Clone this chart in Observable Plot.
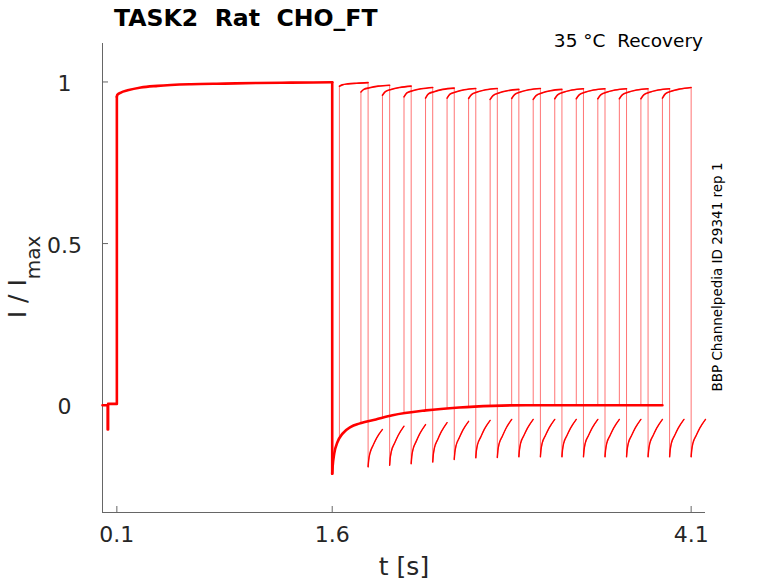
<!DOCTYPE html>
<html><head><meta charset="utf-8">
<script src="https://cdn.jsdelivr.net/npm/d3@7"></script>
<script src="https://cdn.jsdelivr.net/npm/@observablehq/plot@0.6"></script>
<style>html,body{margin:0;padding:0;background:#fff;}</style>
</head><body><div id="chart"></div>
<script>
// ---- ticks & domains ----
const xTicks = [0.1, 1.6, 4.1];
const yTicks = [0, 0.5, 1];
const xDomain = [0, 4.2];
const yDomain = [-0.332, 1.119];

// ---- shared part of every sweep (holding, prepulse, recovery tail) ----
const baseT = [0, 0.036, 0.036, 0.039, 0.039, 0.1, 0.1];
const baseV = [0, 0, -0.075, -0.075, 0.004, 0.004, 0.954];
const preT = [0.1, 0.103, 0.128, 0.175, 0.267, 0.384, 0.616, 0.849, 1.08, 1.312, 1.6];
const preV = [0.954, 0.96, 0.967, 0.974, 0.983, 0.988, 0.993, 0.995, 0.997, 0.998, 0.999];
const dropT = [1.6, 1.6];
const dropV = [0.999, -0.212];
const tailT = [1.6, 1.603, 1.614, 1.637, 1.672, 1.73, 1.788, 1.904, 2.02, 2.252, 2.484, 2.717, 2.948, 3.4, 3.9];
const tailV = [-0.212, -0.19, -0.15, -0.114, -0.088, -0.067, -0.057, -0.044, -0.031, -0.016, -0.007, -0.002, 0, 0, 0];

// ---- test pulses (one per sweep) ----
const startTimes = [1.65, 1.80, 1.95, 2.10, 2.25, 2.40, 2.55, 2.70, 2.85, 3.00, 3.15, 3.30, 3.45, 3.60, 3.75, 3.90];
const endTimes   = [1.85, 2.00, 2.15, 2.30, 2.45, 2.60, 2.75, 2.90, 3.05, 3.20, 3.35, 3.50, 3.65, 3.80, 3.95, 4.10];
const tailAt = [-0.104, -0.055, -0.039, -0.026, -0.016, -0.010, -0.006, -0.003, -0.001, 0, 0, 0, 0, 0, 0, 0];
const plateauDt = [0, 0.02, 0.06, 0.12, 0.2];
const plateau = [
  [0.987, 0.991, 0.994, 0.996, 0.998],
  [0.969, 0.977, 0.982, 0.987, 0.990],
  [0.959, 0.970, 0.977, 0.983, 0.987],
  [0.954, 0.966, 0.973, 0.979, 0.983],
  [0.950, 0.963, 0.970, 0.977, 0.981],
  [0.950, 0.962, 0.969, 0.976, 0.980],
  [0.949, 0.961, 0.969, 0.976, 0.980],
  [0.946, 0.958, 0.966, 0.973, 0.977],
  [0.949, 0.961, 0.969, 0.976, 0.980],
  [0.946, 0.958, 0.966, 0.973, 0.977],
  [0.948, 0.960, 0.968, 0.975, 0.979],
  [0.948, 0.960, 0.968, 0.975, 0.979],
  [0.948, 0.960, 0.968, 0.975, 0.979],
  [0.948, 0.960, 0.968, 0.975, 0.979],
  [0.948, 0.960, 0.968, 0.975, 0.979],
  [0.950, 0.963, 0.971, 0.978, 0.983]
];
const hookDt = [0, 0.004, 0.012, 0.035, 0.06, 0.1];
const hook = [
  [-0.191, -0.170, -0.150, -0.124, -0.101, -0.075],
  [-0.186, -0.164, -0.143, -0.117, -0.093, -0.065],
  [-0.181, -0.159, -0.138, -0.112, -0.088, -0.060],
  [-0.176, -0.154, -0.132, -0.106, -0.082, -0.054],
  [-0.168, -0.147, -0.126, -0.101, -0.077, -0.050],
  [-0.163, -0.142, -0.122, -0.098, -0.074, -0.047],
  [-0.162, -0.141, -0.120, -0.096, -0.072, -0.044],
  [-0.160, -0.139, -0.118, -0.094, -0.071, -0.044],
  [-0.160, -0.139, -0.118, -0.094, -0.071, -0.044],
  [-0.160, -0.139, -0.118, -0.094, -0.071, -0.044],
  [-0.160, -0.139, -0.118, -0.094, -0.071, -0.044],
  [-0.160, -0.139, -0.118, -0.094, -0.071, -0.044],
  [-0.160, -0.139, -0.118, -0.094, -0.071, -0.044],
  [-0.160, -0.139, -0.118, -0.094, -0.071, -0.044],
  [-0.160, -0.139, -0.118, -0.094, -0.071, -0.044],
  [-0.160, -0.139, -0.118, -0.094, -0.071, -0.044]
];

// ---- build tables ----
const zip = (T, V) => T.map((t, i) => ({t, v: V[i]}));
const base = zip(baseT, baseV), pre = zip(preT, preV), drop = zip(dropT, dropV), tail = zip(tailT, tailV);
const sweeps = [], plats = [], hooks = [];
startTimes.forEach((s, k) => {
  const e = endTimes[k];
  sweeps.push({t: s, v: tailAt[k], k});
  plateauDt.forEach((d, i) => { const p = {t: s + d, v: plateau[k][i], k}; sweeps.push(p); plats.push(p); });
  hookDt.forEach((d, i) => { const p = {t: e + d, v: hook[k][i], k}; sweeps.push(p); hooks.push(p); });
});

const red = "#ff0000";
const axisColor = "#666666";
const labelColor = "#262626";

const chart = Plot.plot({
  width: 778, height: 583,
  marginTop: 43, marginRight: 73, marginBottom: 71, marginLeft: 102,
  x: {domain: xDomain},
  y: {domain: yDomain},
  style: {fontFamily: "DejaVu Sans", background: "#fff", overflow: "visible"},
  marks: [
    Plot.ruleX([xDomain[0]], {stroke: axisColor}),
    Plot.ruleY([yDomain[0]], {stroke: axisColor}),
    Plot.axisX({ticks: xTicks, tickFormat: d => String(d), tickSize: 0, tickPadding: 14, fontSize: 22, fill: labelColor, label: null}),
    Plot.axisX({ticks: xTicks, tickSize: 6, dy: -6, fill: "none", stroke: axisColor, label: null}),
    Plot.axisY({ticks: yTicks, tickFormat: d => String(d), tickSize: 0, tickPadding: 38, textAnchor: "middle", fontSize: 22, dy: 2, fill: labelColor, label: null}),
    Plot.axisY({ticks: yTicks, tickSize: 6, dx: 6, fill: "none", stroke: axisColor, label: null}),
    Plot.line(sweeps, {x: "t", y: "v", z: "k", stroke: red, strokeWidth: 1, strokeOpacity: 0.55}),
    Plot.line(plats, {x: "t", y: "v", z: "k", stroke: red, strokeWidth: 1.6, curve: "monotone-x"}),
    Plot.line(hooks, {x: "t", y: "v", z: "k", stroke: red, strokeWidth: 1.4, curve: "monotone-x"}),
    Plot.line(base, {x: "t", y: "v", stroke: red, strokeWidth: 2.6}),
    Plot.line(pre, {x: "t", y: "v", stroke: red, strokeWidth: 2.6, curve: "monotone-x"}),
    Plot.line(drop, {x: "t", y: "v", stroke: red, strokeWidth: 2.6}),
    Plot.line(tail, {x: "t", y: "v", stroke: red, strokeWidth: 2.6, curve: "monotone-x"})
  ]
});

const svg = d3.select(chart);
svg.append("text").attr("x", 114).attr("y", 26).attr("font-size", 23.6).attr("font-weight", "bold")
  .attr("text-anchor", "start").attr("fill", "#000").style("white-space", "pre").text("TASK2  Rat  CHO_FT");
svg.append("text").attr("x", 703).attr("y", 47).attr("font-size", 18.5).attr("text-anchor", "end")
  .attr("fill", "#000").style("white-space", "pre").text("35 °C  Recovery");
svg.append("text").attr("transform", "translate(722,277) rotate(-90)").attr("font-size", 13.5)
  .attr("text-anchor", "middle").attr("fill", "#000").text("BBP Channelpedia ID 29341 rep 1");
svg.append("text").attr("x", 404).attr("y", 575).attr("font-size", 25).attr("text-anchor", "middle")
  .attr("fill", labelColor).text("t [s]");
const yl = svg.append("text").attr("transform", "translate(26,277) rotate(-90)").attr("text-anchor", "middle")
  .attr("fill", labelColor);
yl.append("tspan").attr("font-size", 25).text("I / I");
yl.append("tspan").attr("font-size", 20).attr("dy", 14).text("max");

document.getElementById("chart").appendChild(chart);
</script>
</body></html>
